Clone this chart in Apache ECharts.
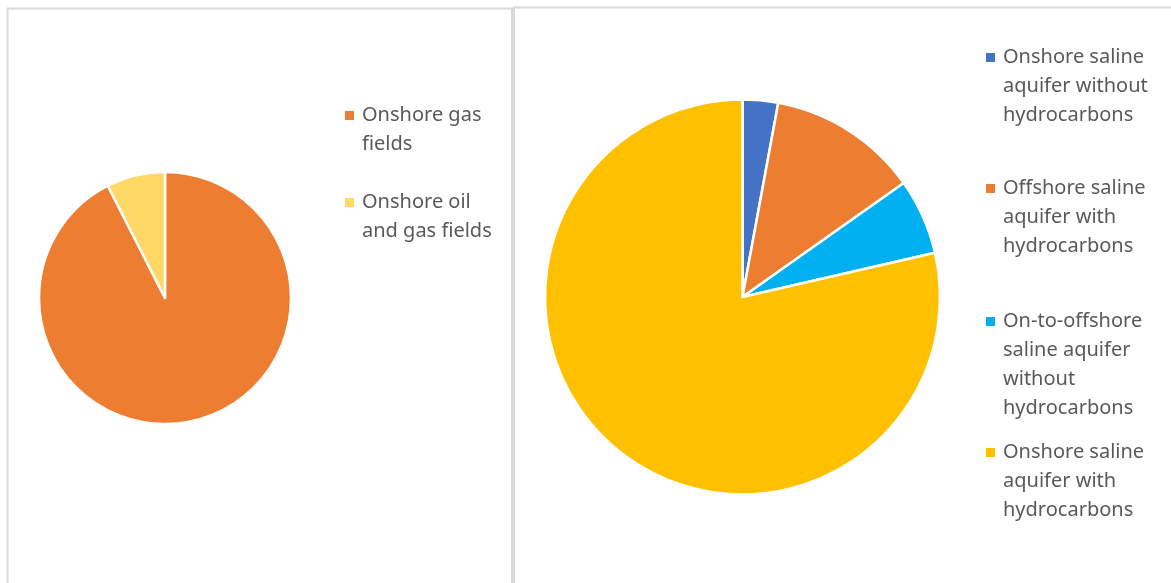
<!DOCTYPE html>
<html>
<head>
<meta charset="utf-8">
<script src="https://cdn.jsdelivr.net/npm/echarts@6/dist/echarts.min.js"></script>
<style>
html,body{margin:0;padding:0;background:#fff;}
#chart{width:1171px;height:583px;}
</style>
</head>
<body>
<div id="chart"></div>
<script>
// Left pie: onshore fields
const leftCategories = ['Onshore gas fields', 'Onshore oil and gas fields'];
const leftValues = [92.5, 7.5];
const leftLabels = ['Onshore gas\nfields', 'Onshore oil\nand gas fields'];
const leftColors = ['#ED7D31', '#FFD966'];

// Right pie: saline aquifers
const rightCategories = [
  'Onshore saline aquifer without hydrocarbons',
  'Offshore saline aquifer with hydrocarbons',
  'On-to-offshore saline aquifer without hydrocarbons',
  'Onshore saline aquifer with hydrocarbons'
];
const rightValues = [2.9, 12.3, 6.2, 78.6];
const rightLabels = [
  'Onshore saline\naquifer without\nhydrocarbons',
  'Offshore saline\naquifer with\nhydrocarbons',
  'On-to-offshore\nsaline aquifer\nwithout\nhydrocarbons',
  'Onshore saline\naquifer with\nhydrocarbons'
];
const rightColors = ['#4472C4', '#ED7D31', '#00B0F0', '#FFC000'];

const LH = 29;
function iconFor(lines) {
  const H = lines * LH;
  const y0 = (LH - 9) / 2;
  return 'path://M0,0L0.01,0M0,' + y0 + 'L9,' + y0 + 'L9,' + (y0 + 9) + 'L0,' + (y0 + 9) + 'ZM12,' + H + 'L11.99,' + H;
}
function makeLegend(name, label, left, top) {
  const lines = label.split('\n').length;
  return {
    data: [name],
    left: left, top: top, padding: 0,
    orient: 'vertical',
    selectedMode: false,
    icon: iconFor(lines),
    itemWidth: 12, itemHeight: lines * LH,
    itemStyle: { borderWidth: 0 },
    formatter: function () { return label; },
    textStyle: { fontFamily: 'Noto Sans', fontSize: 20, color: '#595959', lineHeight: LH }
  };
}

const leftTops = [101, 188];
const rightTops = [43, 174, 307, 438];
const legends = [];
leftCategories.forEach((c, i) => legends.push(makeLegend(c, leftLabels[i], 345, leftTops[i])));
rightCategories.forEach((c, i) => legends.push(makeLegend(c, rightLabels[i], 986, rightTops[i])));

const chart = echarts.init(document.getElementById('chart'), null, { renderer: 'canvas' });
chart.setOption({
  animation: false,
  backgroundColor: '#fff',
  graphic: [
    { type: 'rect', shape: { x: 7.5, y: 8.5, width: 504.5, height: 600 }, style: { fill: 'none', stroke: '#D9D9D9', lineWidth: 2 }, silent: true },
    { type: 'rect', shape: { x: 514, y: 7.5, width: 700, height: 600 }, style: { fill: 'none', stroke: '#D9D9D9', lineWidth: 2 }, silent: true }
  ],
  legend: legends,
  series: [
    {
      type: 'pie',
      center: [165, 298],
      radius: [0, 126],
      startAngle: 90,
      clockwise: true,
      label: { show: false }, labelLine: { show: false },
      emphasis: { disabled: true },
      itemStyle: { borderColor: '#fff', borderWidth: 2.5 },
      data: leftCategories.map((c, i) => ({ name: c, value: leftValues[i], itemStyle: { color: leftColors[i] } }))
    },
    {
      type: 'pie',
      center: [742.5, 297],
      radius: [0, 197.5],
      startAngle: 90,
      clockwise: true,
      label: { show: false }, labelLine: { show: false },
      emphasis: { disabled: true },
      itemStyle: { borderColor: '#fff', borderWidth: 2.5 },
      data: rightCategories.map((c, i) => ({ name: c, value: rightValues[i], itemStyle: { color: rightColors[i] } }))
    }
  ]
});
</script>
</body>
</html>
